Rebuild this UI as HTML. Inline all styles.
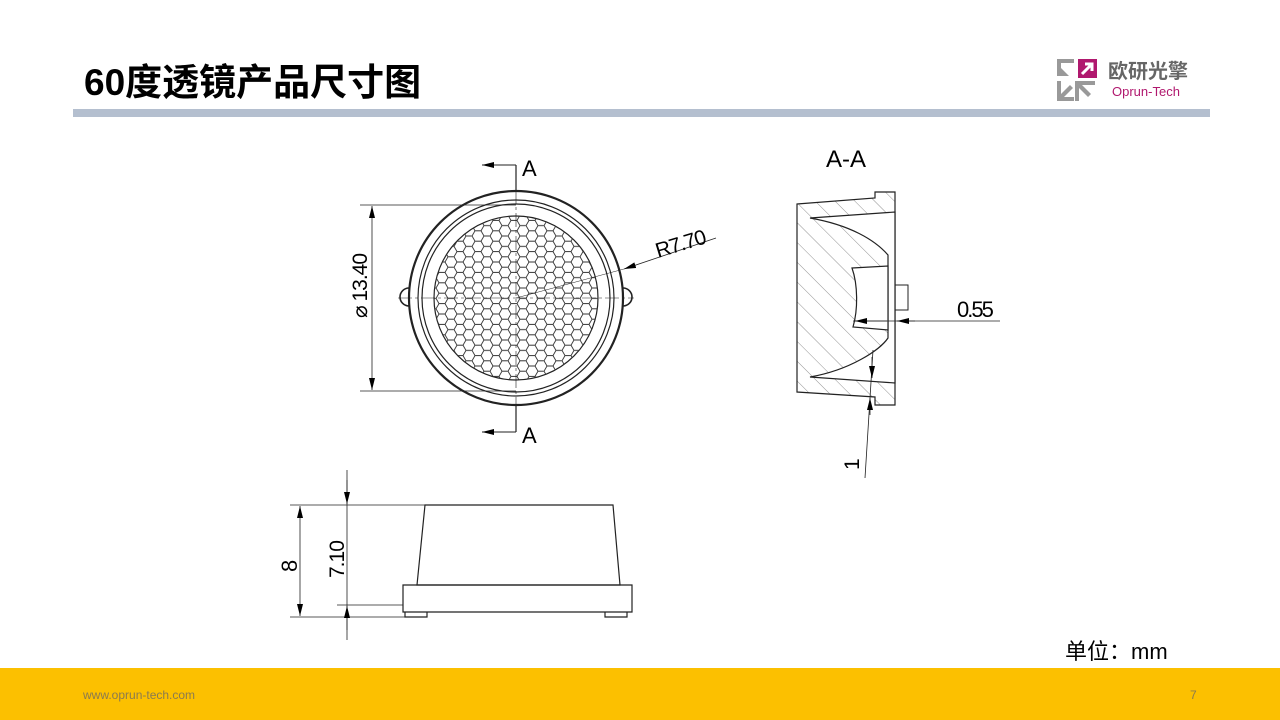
<!DOCTYPE html>
<html><head><meta charset="utf-8"><style>
body{margin:0;width:1280px;height:720px;position:relative;background:#fff;font-family:"Liberation Sans","Noto Sans CJK SC",sans-serif;overflow:hidden}
.t{position:absolute;left:84px;top:52px;font-size:37px;font-weight:bold;color:#000}
.bar{position:absolute;left:73px;top:109px;width:1137px;height:8px;background:#b4bfcf}
.foot{position:absolute;left:0;top:668px;width:1280px;height:52px;background:#fcc000}
.url{position:absolute;left:83px;top:688px;font-size:12px;color:#8a7a50}
.pg{position:absolute;left:1190px;top:688px;font-size:12px;color:#8a7a50}
.unit{position:absolute;left:1065px;top:634px;font-size:22px;color:#000}
</style></head><body>
<div class="t">60度透镜产品尺寸图</div>
<div class="bar"></div>
<svg style="position:absolute;left:1056px;top:58px" width="150" height="44">
<g fill="#999"><path d="M1 1h17v4H5v13H1z"/><path d="M5 10l8 8h-8z"/><path d="M1 23h4v13l9-9 3 3-9 9h10v4H1z"/><path d="M23 23h17v4H27l9 9-3 3-9-9v13h-4V23z" transform="translate(-1 0)"/></g>
<rect x="22" y="1" width="19" height="19" fill="#b0186e"/><path d="M26 16l9-9M29 6h7v7" stroke="#fff" stroke-width="3" fill="none"/>
<text x="52" y="20" font-size="20" font-weight="bold" fill="#666" font-family="Noto Sans CJK SC,sans-serif">欧研光擎</text>
<text x="56" y="38" font-size="13" fill="#b0186e" font-family="Liberation Sans,sans-serif">Oprun-Tech</text>
</svg>
<svg style="position:absolute;left:0;top:0" width="1280" height="720" font-family="Liberation Sans,sans-serif">
<defs>
<pattern id="hx" width="18" height="10.4" patternUnits="userSpaceOnUse" x="4" y="2">
<path d="M0 5.2L3 0H9L12 5.2L9 10.4H3ZM12 5.2H18" fill="none" stroke="#333" stroke-width="0.9"/>
</pattern>
<clipPath id="cc"><circle cx="516" cy="298" r="82"/></clipPath>
<pattern id="hatch" width="14" height="14" patternUnits="userSpaceOnUse" patternTransform="rotate(-45)"><line x1="0" y1="0" x2="0" y2="14" stroke="#777" stroke-width="0.8"/></pattern>
<marker id="ar" markerWidth="12" markerHeight="6" refX="12" refY="3" orient="auto" markerUnits="userSpaceOnUse"><path d="M0 0L12 3L0 6z" fill="#000"/></marker>
</defs>
<g fill="none" stroke="#222" stroke-width="1.2">
<!-- top view -->
<circle cx="516" cy="298" r="107" stroke-width="2.2"/>
<path d="M409 288a8 8 0 0 0 0 18M623 288a8 8 0 0 1 0 18" stroke-width="1.6"/>
<circle cx="516" cy="298" r="98"/><circle cx="516" cy="298" r="94"/><circle cx="516" cy="298" r="82"/>
<rect x="420" y="200" width="200" height="200" fill="url(#hx)" stroke="none" clip-path="url(#cc)"/>
<line x1="398" y1="298" x2="634" y2="298" stroke-width="0.6" stroke-dasharray="14 3 3 3"/>
<line x1="516" y1="190" x2="516" y2="406" stroke-width="0.6" stroke-dasharray="14 3 3 3"/>
<line x1="516" y1="165" x2="516" y2="190"/><line x1="516" y1="406" x2="516" y2="432"/>
<line x1="516" y1="165" x2="482" y2="165" marker-end="url(#ar)" stroke-width="1"/>
<line x1="516" y1="432" x2="482" y2="432" marker-end="url(#ar)" stroke-width="1"/>
<line x1="360" y1="205" x2="516" y2="205" stroke-width="0.8"/><line x1="360" y1="391" x2="516" y2="391" stroke-width="0.8"/>
<line x1="372" y1="298" x2="372" y2="206" marker-end="url(#ar)" stroke-width="0.8"/>
<line x1="372" y1="298" x2="372" y2="390" marker-end="url(#ar)" stroke-width="0.8"/>
<line x1="716" y1="238" x2="624" y2="269" marker-end="url(#ar)" stroke-width="0.8"/>
<line x1="624" y1="269" x2="516" y2="298" stroke-width="0.5"/>
<!-- section -->
<path d="M797 204L875 198V192H895V405H875V397L797 392Z" fill="url(#hatch)" stroke-width="1.2"/>
<path d="M810 218L895 212V383L810 377C850 370 880 350 888 338V255C875 240 850 225 810 218Z" fill="#fff"/>
<path d="M852 268L888 266V330L853 327C858 310 858 285 852 268Z" fill="#fff"/>
<path d="M895 285H908V310H895" stroke-width="1"/>
<line x1="853" y1="321" x2="1000" y2="321" stroke-width="0.8"/>
<line x1="855" y1="321" x2="887" y2="321" marker-end="url(#ar)" stroke-width="0.8" transform="rotate(180 871 321)"/>
<line x1="915" y1="321" x2="897" y2="321" marker-end="url(#ar)" stroke-width="0.8"/>
<line x1="873" y1="350" x2="865" y2="478" stroke-width="0.8"/>
<line x1="872" y1="357" x2="872" y2="378" marker-end="url(#ar)" stroke-width="0.8"/>
<line x1="870" y1="415" x2="870" y2="398" marker-end="url(#ar)" stroke-width="0.8"/>
<!-- side view -->
<path d="M425 505H613L620 585H417Z" stroke-width="1.2"/>
<path d="M403 585H632V612H403Z"/>
<path d="M405 612V617H427V612M605 612V617H627V612"/>
<line x1="290" y1="505" x2="425" y2="505" stroke-width="0.8"/>
<line x1="290" y1="617" x2="405" y2="617" stroke-width="0.8"/>
<line x1="337" y1="605" x2="403" y2="605" stroke-width="0.8"/>
<line x1="300" y1="560" x2="300" y2="506" marker-end="url(#ar)" stroke-width="0.8"/>
<line x1="300" y1="560" x2="300" y2="616" marker-end="url(#ar)" stroke-width="0.8"/>
<line x1="347" y1="470" x2="347" y2="640" stroke-width="0.8"/>
<line x1="347" y1="480" x2="347" y2="504" marker-end="url(#ar)" stroke-width="0.8"/>
<line x1="347" y1="630" x2="347" y2="606" marker-end="url(#ar)" stroke-width="0.8"/>
</g>
<g fill="#000" font-size="22">
<text x="522" y="176">A</text><text x="522" y="443">A</text>
<text x="826" y="167" font-size="24">A-A</text>
<text x="957" y="317" font-size="22" letter-spacing="-2">0.55</text>
<text transform="translate(367 318) rotate(-90)" font-size="21" letter-spacing="-1">⌀ 13.40</text>
<text transform="translate(658 258) rotate(-17)" font-size="21" letter-spacing="-1">R7.70</text>
<text transform="translate(859 470) rotate(-90)" font-size="21">1</text>
<text transform="translate(297 572) rotate(-90)" font-size="22">8</text>
<text transform="translate(344 578) rotate(-90)" font-size="21" letter-spacing="-1">7.10</text>
</g>
</svg>
<div class="unit">单位：mm</div>
<div class="foot"></div>
<div class="url">www.oprun-tech.com</div>
<div class="pg">7</div>
</body></html>
